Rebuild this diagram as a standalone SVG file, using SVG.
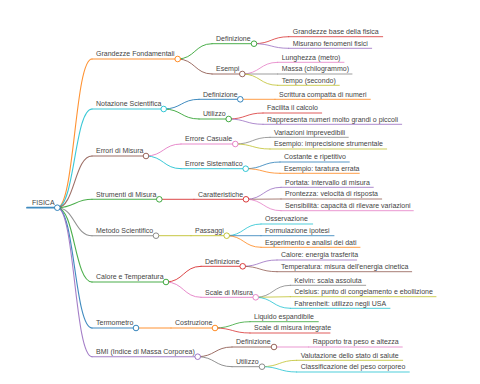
<svg xmlns="http://www.w3.org/2000/svg" width="480" height="384" viewBox="0 0 480 384">
<style>
text{font-family:"Liberation Sans",Arial,sans-serif;font-size:7px;fill:#444}
path,line{fill:none;stroke-linecap:round;stroke-opacity:0.85}
circle{fill:#fff;stroke-width:0.9}
.d0{stroke-width:1.8}.d1{stroke-width:1.1}.d2{stroke-width:1}.d3{stroke-width:0.9}
.c0{stroke:#1f77b4}.c1{stroke:#ff7f0e}.c2{stroke:#2ca02c}.c3{stroke:#d62728}.c4{stroke:#9467bd}
.c5{stroke:#8c564b}.c6{stroke:#e377c2}.c7{stroke:#7f7f7f}.c8{stroke:#bcbd22}.c9{stroke:#17becf}
</style>
<rect width="480" height="384" fill="#fff"/>
<g id="connectors">
<path class="d1 c1" d="M57.3,207.7 C74.65,207.7 74.65,59 92,59"/>
<path class="d1 c9" d="M57.3,207.7 C74.65,207.7 74.65,109 92,109"/>
<path class="d1 c5" d="M57.3,207.7 C74.65,207.7 74.65,156 92,156"/>
<path class="d1 c2" d="M57.3,207.7 C74.65,207.7 74.65,199.3 92,199.3"/>
<path class="d1 c7" d="M57.3,207.7 C74.65,207.7 74.65,235.7 92,235.7"/>
<path class="d1 c2" d="M57.3,207.7 C74.65,207.7 74.65,282 92,282"/>
<path class="d1 c0" d="M57.3,207.7 C74.65,207.7 74.65,328 92,328"/>
<path class="d1 c4" d="M57.3,207.7 C74.65,207.7 74.65,356.7 92,356.7"/>
<path class="d2 c2" d="M177.7,59 C194.85,59 194.85,43.7 212,43.7"/>
<path class="d2 c5" d="M177.7,59 C194.85,59 194.85,74 212,74"/>
<path class="d2 c0" d="M163.7,109 C181.35,109 181.35,99.3 199,99.3"/>
<path class="d2 c2" d="M163.7,109 C181.35,109 181.35,119 199,119"/>
<path class="d2 c6" d="M146,156 C163.5,156 163.5,144 181,144"/>
<path class="d2 c9" d="M146,156 C163.5,156 163.5,168.7 181,168.7"/>
<path class="d2 c3" d="M159.3,199.3 L194,199.3"/>
<path class="d2 c8" d="M156,235.7 L191,235.7"/>
<path class="d2 c3" d="M166,282 C183.5,282 183.5,266.3 201,266.3"/>
<path class="d2 c6" d="M166,282 C183.5,282 183.5,297.3 201,297.3"/>
<path class="d2 c1" d="M136,328 L171,328"/>
<path class="d2 c5" d="M197.7,356.7 C214.85,356.7 214.85,347 232,347"/>
<path class="d2 c7" d="M197.7,356.7 C214.85,356.7 214.85,366.7 232,366.7"/>
<path class="d3 c3" d="M254,43.7 C271.35,43.7 271.35,36.7 288.7,36.7"/>
<path class="d3 c4" d="M254,43.7 C271.35,43.7 271.35,48.3 288.7,48.3"/>
<path class="d3 c6" d="M242.3,74 C260,74 260,62.3 277.7,62.3"/>
<path class="d3 c7" d="M242.3,74 L277.7,74"/>
<path class="d3 c8" d="M242.3,74 C260,74 260,85.3 277.7,85.3"/>
<path class="d3 c1" d="M240.3,99.3 L275,99.3"/>
<path class="d3 c3" d="M228.7,119 C245.85,119 245.85,113 263,113"/>
<path class="d3 c4" d="M228.7,119 C245.85,119 245.85,124.3 263,124.3"/>
<path class="d3 c7" d="M235.3,144 C252.65,144 252.65,137.3 270,137.3"/>
<path class="d3 c8" d="M235.3,144 C252.65,144 252.65,149 270,149"/>
<path class="d3 c0" d="M245.7,168.7 C262.85,168.7 262.85,162 280,162"/>
<path class="d3 c1" d="M245.7,168.7 C262.85,168.7 262.85,173.3 280,173.3"/>
<path class="d3 c4" d="M246,199.3 C263.5,199.3 263.5,187.3 281,187.3"/>
<path class="d3 c5" d="M246,199.3 L281,199"/>
<path class="d3 c6" d="M246,199.3 C263.5,199.3 263.5,210.7 281,210.7"/>
<path class="d3 c9" d="M226.7,235.7 C243.85,235.7 243.85,224 261,224"/>
<path class="d3 c0" d="M226.7,235.7 L261,235.7"/>
<path class="d3 c1" d="M226.7,235.7 C243.85,235.7 243.85,247.3 261,247.3"/>
<path class="d3 c4" d="M242.7,266.3 C259.85,266.3 259.85,260 277,260"/>
<path class="d3 c5" d="M242.7,266.3 C259.85,266.3 259.85,271.7 277,271.7"/>
<path class="d3 c7" d="M255.7,297.3 C273,297.3 273,285.3 290.3,285.3"/>
<path class="d3 c8" d="M255.7,297.3 L290.3,296.7"/>
<path class="d3 c9" d="M255.7,297.3 C273,297.3 273,308.3 290.3,308.3"/>
<path class="d3 c2" d="M215,328 C232.5,328 232.5,321.7 250,321.7"/>
<path class="d3 c3" d="M215,328 C232.5,328 232.5,333 250,333"/>
<path class="d3 c6" d="M274,347 L308.7,347"/>
<path class="d3 c8" d="M262,366.7 C279.35,366.7 279.35,360.3 296.7,360.3"/>
<path class="d3 c9" d="M262,366.7 C279.35,366.7 279.35,372 296.7,372"/>
</g>
<g id="n-fisica"><line class="d0 c0" x1="27" y1="207.7" x2="57.3" y2="207.7"/><circle class="c0" cx="57.3" cy="207.7" r="2.8"/><text x="32" y="205.1">FISICA</text></g>
<g id="n-grandezze"><line class="d1 c1" x1="92" y1="59" x2="177.7" y2="59"/><circle class="c1" cx="177.7" cy="59" r="2.8"/><text x="96" y="56.4">Grandezze Fondamentali</text></g>
<g id="n-g-def"><line class="d2 c2" x1="212" y1="43.7" x2="254" y2="43.7"/><circle class="c2" cx="254" cy="43.7" r="2.8"/><text x="216" y="41.1">Definizione</text></g>
<g id="n-g-def-1"><line class="d3 c3" x1="288.7" y1="36.7" x2="382.7" y2="36.7"/><text x="292.7" y="34.1">Grandezze base della fisica</text></g>
<g id="n-g-def-2"><line class="d3 c4" x1="288.7" y1="48.3" x2="371.7" y2="48.3"/><text x="292.7" y="45.7">Misurano fenomeni fisici</text></g>
<g id="n-g-es"><line class="d2 c5" x1="212" y1="74" x2="242.3" y2="74"/><circle class="c5" cx="242.3" cy="74" r="2.8"/><text x="216" y="71.4">Esempi</text></g>
<g id="n-g-es-1"><line class="d3 c6" x1="277.7" y1="62.3" x2="344" y2="62.3"/><text x="281.7" y="59.7">Lunghezza (metro)</text></g>
<g id="n-g-es-2"><line class="d3 c7" x1="277.7" y1="74" x2="352" y2="74"/><text x="281.7" y="71.4">Massa (chilogrammo)</text></g>
<g id="n-g-es-3"><line class="d3 c8" x1="277.7" y1="85.3" x2="339.3" y2="85.3"/><text x="281.7" y="82.7">Tempo (secondo)</text></g>
<g id="n-notazione"><line class="d1 c9" x1="92" y1="109" x2="163.7" y2="109"/><circle class="c9" cx="163.7" cy="109" r="2.8"/><text x="96" y="106.4">Notazione Scientifica</text></g>
<g id="n-n-def"><line class="d2 c0" x1="199" y1="99.3" x2="240.3" y2="99.3"/><circle class="c0" cx="240.3" cy="99.3" r="2.8"/><text x="203" y="96.7">Definizione</text></g>
<g id="n-n-def-1"><line class="d3 c1" x1="275" y1="99.3" x2="370.3" y2="99.3"/><text x="279" y="96.7">Scrittura compatta di numeri</text></g>
<g id="n-n-ut"><line class="d2 c2" x1="199" y1="119" x2="228.7" y2="119"/><circle class="c2" cx="228.7" cy="119" r="2.8"/><text x="203" y="116.4">Utilizzo</text></g>
<g id="n-n-ut-1"><line class="d3 c3" x1="263" y1="113" x2="321.7" y2="113"/><text x="267" y="110.4">Facilita il calcolo</text></g>
<g id="n-n-ut-2"><line class="d3 c4" x1="263" y1="124.3" x2="401.7" y2="124.3"/><text x="267" y="121.7">Rappresenta numeri molto grandi o piccoli</text></g>
<g id="n-errori"><line class="d1 c5" x1="92" y1="156" x2="146" y2="156"/><circle class="c5" cx="146" cy="156" r="2.8"/><text x="96" y="153.4">Errori di Misura</text></g>
<g id="n-e-cas"><line class="d2 c6" x1="181" y1="144" x2="235.3" y2="144"/><circle class="c6" cx="235.3" cy="144" r="2.8"/><text x="185" y="141.4">Errore Casuale</text></g>
<g id="n-e-cas-1"><line class="d3 c7" x1="270" y1="137.3" x2="348.3" y2="137.3"/><text x="274" y="134.7">Variazioni imprevedibili</text></g>
<g id="n-e-cas-2"><line class="d3 c8" x1="270" y1="149" x2="386.7" y2="149"/><text x="274" y="146.4">Esempio: imprecisione strumentale</text></g>
<g id="n-e-sis"><line class="d2 c9" x1="181" y1="168.7" x2="245.7" y2="168.7"/><circle class="c9" cx="245.7" cy="168.7" r="2.8"/><text x="185" y="166.1">Errore Sistematico</text></g>
<g id="n-e-sis-1"><line class="d3 c0" x1="280" y1="162" x2="349.3" y2="162"/><text x="284" y="159.4">Costante e ripetitivo</text></g>
<g id="n-e-sis-2"><line class="d3 c1" x1="280" y1="173.3" x2="359.3" y2="173.3"/><text x="284" y="170.7">Esempio: taratura errata</text></g>
<g id="n-strumenti"><line class="d1 c2" x1="92" y1="199.3" x2="159.3" y2="199.3"/><circle class="c2" cx="159.3" cy="199.3" r="2.8"/><text x="96" y="196.7">Strumenti di Misura</text></g>
<g id="n-s-car"><line class="d2 c3" x1="194" y1="199.3" x2="246" y2="199.3"/><circle class="c3" cx="246" cy="199.3" r="2.8"/><text x="198" y="196.7">Caratteristiche</text></g>
<g id="n-s-car-1"><line class="d3 c4" x1="281" y1="187.3" x2="373.3" y2="187.3"/><text x="285" y="184.7">Portata: intervallo di misura</text></g>
<g id="n-s-car-2"><line class="d3 c5" x1="281" y1="199" x2="381.7" y2="199"/><text x="285" y="196.4">Prontezza: velocità di risposta</text></g>
<g id="n-s-car-3"><line class="d3 c6" x1="281" y1="210.7" x2="413.3" y2="210.7"/><text x="285" y="208.1">Sensibilità: capacità di rilevare variazioni</text></g>
<g id="n-metodo"><line class="d1 c7" x1="92" y1="235.7" x2="156" y2="235.7"/><circle class="c7" cx="156" cy="235.7" r="2.8"/><text x="96" y="233.1">Metodo Scientifico</text></g>
<g id="n-m-pas"><line class="d2 c8" x1="191" y1="235.7" x2="226.7" y2="235.7"/><circle class="c8" cx="226.7" cy="235.7" r="2.8"/><text x="195" y="233.1">Passaggi</text></g>
<g id="n-m-pas-1"><line class="d3 c9" x1="261" y1="224" x2="312.7" y2="224"/><text x="265" y="221.4">Osservazione</text></g>
<g id="n-m-pas-2"><line class="d3 c0" x1="261" y1="235.7" x2="334" y2="235.7"/><text x="265" y="233.1">Formulazione ipotesi</text></g>
<g id="n-m-pas-3"><line class="d3 c1" x1="261" y1="247.3" x2="360" y2="247.3"/><text x="265" y="244.7">Esperimento e analisi dei dati</text></g>
<g id="n-calore"><line class="d1 c2" x1="92" y1="282" x2="166" y2="282"/><circle class="c2" cx="166" cy="282" r="2.8"/><text x="96" y="279.4">Calore e Temperatura</text></g>
<g id="n-c-def"><line class="d2 c3" x1="201" y1="266.3" x2="242.7" y2="266.3"/><circle class="c3" cx="242.7" cy="266.3" r="2.8"/><text x="205" y="263.7">Definizione</text></g>
<g id="n-c-def-1"><line class="d3 c4" x1="277" y1="260" x2="356.7" y2="260"/><text x="281" y="257.4">Calore: energia trasferita</text></g>
<g id="n-c-def-2"><line class="d3 c5" x1="277" y1="271.7" x2="411.7" y2="271.7"/><text x="281" y="269.1">Temperatura: misura dell'energia cinetica</text></g>
<g id="n-c-sca"><line class="d2 c6" x1="201" y1="297.3" x2="255.7" y2="297.3"/><circle class="c6" cx="255.7" cy="297.3" r="2.8"/><text x="205" y="294.7">Scale di Misura</text></g>
<g id="n-c-sca-1"><line class="d3 c7" x1="290.3" y1="285.3" x2="365.7" y2="285.3"/><text x="294.3" y="282.7">Kelvin: scala assoluta</text></g>
<g id="n-c-sca-2"><line class="d3 c8" x1="290.3" y1="296.7" x2="436" y2="296.7"/><text x="294.3" y="294.1">Celsius: punto di congelamento e ebollizione</text></g>
<g id="n-c-sca-3"><line class="d3 c9" x1="290.3" y1="308.3" x2="390" y2="308.3"/><text x="294.3" y="305.7">Fahrenheit: utilizzo negli USA</text></g>
<g id="n-termometro"><line class="d1 c0" x1="92" y1="328" x2="136" y2="328"/><circle class="c0" cx="136" cy="328" r="2.8"/><text x="96" y="325.4">Termometro</text></g>
<g id="n-t-cos"><line class="d2 c1" x1="171" y1="328" x2="215" y2="328"/><circle class="c1" cx="215" cy="328" r="2.8"/><text x="175" y="325.4">Costruzione</text></g>
<g id="n-t-cos-1"><line class="d3 c2" x1="250" y1="321.7" x2="318.3" y2="321.7"/><text x="254" y="319.1">Liquido espandibile</text></g>
<g id="n-t-cos-2"><line class="d3 c3" x1="250" y1="333" x2="330" y2="333"/><text x="254" y="330.4">Scale di misura integrate</text></g>
<g id="n-bmi"><line class="d1 c4" x1="92" y1="356.7" x2="197.7" y2="356.7"/><circle class="c4" cx="197.7" cy="356.7" r="2.8"/><text x="96" y="354.1">BMI (Indice di Massa Corporea)</text></g>
<g id="n-b-def"><line class="d2 c5" x1="232" y1="347" x2="274" y2="347"/><circle class="c5" cx="274" cy="347" r="2.8"/><text x="236" y="344.4">Definizione</text></g>
<g id="n-b-def-1"><line class="d3 c6" x1="308.7" y1="347" x2="402.3" y2="347"/><text x="312.7" y="344.4">Rapporto tra peso e altezza</text></g>
<g id="n-b-ut"><line class="d2 c7" x1="232" y1="366.7" x2="262" y2="366.7"/><circle class="c7" cx="262" cy="366.7" r="2.8"/><text x="236" y="364.1">Utilizzo</text></g>
<g id="n-b-ut-1"><line class="d3 c8" x1="296.7" y1="360.3" x2="402.7" y2="360.3"/><text x="300.7" y="357.7">Valutazione dello stato di salute</text></g>
<g id="n-b-ut-2"><line class="d3 c9" x1="296.7" y1="372" x2="409.3" y2="372"/><text x="300.7" y="369.4">Classificazione del peso corporeo</text></g>
</svg>
